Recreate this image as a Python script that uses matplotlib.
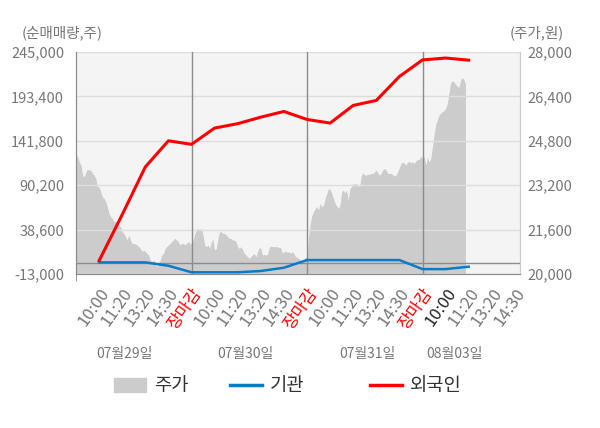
import numpy as np
import matplotlib
matplotlib.use('Agg')
import matplotlib.pyplot as plt
from matplotlib.patches import Patch
from matplotlib.lines import Line2D

plt.rcParams['font.family'] = ['Noto Sans CJK KR', 'DejaVu Sans']

# 주가 (sampled evenly through each session)
price_d1 = [24345, 24224, 24043, 23924, 23564, 23504, 23684, 23780, 23744, 23744,
            23624, 23564, 23444, 23144, 23144, 22964, 22784, 22724, 22604, 22424,
            22184, 22064, 22004, 21884, 21884, 21824, 21764, 21704, 21524, 21464,
            21344, 21224, 21404, 21224, 21104, 21104, 21074, 21044, 20984, 20924,
            20804, 20864, 20804, 20744, 20684, 20504, 20444, 20504, 20384, 20264,
            20384, 20504, 20684, 20744, 20924, 20984, 21044, 21104, 21164, 21224,
            21284, 21224, 21164, 21044, 21104, 21104, 21044, 21104, 21164, 21104]
price_d2 = [21104, 21224, 21464, 21584, 21644, 21584, 21644, 21404, 21044, 20984,
            21044, 20924, 21164, 21260, 20864, 20924, 21284, 21524, 21524, 21464,
            21464, 21404, 21344, 21284, 21284, 21224, 21224, 21164, 20984, 20924,
            20984, 20864, 20744, 20684, 20624, 20564, 20624, 20684, 20744, 20624,
            20804, 20948, 20924, 20684, 20708, 20684, 20708, 20924, 21020, 20984,
            20984, 20984, 20984, 20960, 20960, 20744, 20804, 20828, 20780, 20804,
            20744, 20804, 20744, 20624, 20588, 20564, 20504, 20468, 20504, 20624]
price_d3 = [20564, 21344, 21824, 22124, 22244, 22364, 22424, 22304, 22544, 22424,
            22484, 22724, 22904, 23084, 23048, 22904, 22724, 22544, 22448, 22364,
            22484, 22964, 23024, 22928, 23024, 22664, 23084, 23144, 23264, 23240,
            23264, 23144, 23204, 23564, 23648, 23564, 23564, 23600, 23588, 23624,
            23624, 23684, 23744, 23624, 23564, 23624, 23768, 23804, 23744, 23624,
            23624, 23624, 23576, 23528, 23564, 23684, 23840, 23984, 24044, 23984,
            23924, 24044, 24044, 24008, 24044, 23984, 24080, 24128, 24128, 24248]
price_d4 = [24164, 24240, 23924, 24200, 24040, 24150, 24584, 25030, 25390, 25560,
            25724, 25800, 25844, 25890, 25964, 26140, 26500, 26890, 26960, 26924,
            26840, 26770, 26720, 26960, 27080, 27010, 26864]
samples_per_day = 70

# 순매매량 누적 (one point per tick label, up to 08/03 11:20)
inst = [500, 500, 500, -3400, -11000, -11000, -11000, -9500, -5700,
        3200, 3200, 3200, 3200, 3200, -7300, -7300, -4500]
foreign = [2400, 56000, 111400, 141800, 137700, 156600, 161700, 169300, 175900,
           166600, 162400, 182900, 188700, 216500, 235800, 238000, 235500]

tick_labels = ['10:00', '11:20', '13:20', '14:30', '장마감'] * 3 + ['10:00', '11:20', '13:20', '14:30']
dates = ['07월29일', '07월30일', '07월31일', '08월03일']
date_pos = [2.1, 7.35, 12.6, 16.4]

left_ticks = [-13000, 38600, 90200, 141800, 193400, 245000]
right_ticks = [20000, 21600, 23200, 24800, 26400, 28000]

fig = plt.figure(figsize=(6, 4.28), dpi=100)
ax = fig.add_axes([76 / 600, 1 - 274 / 428, 444 / 600, 222 / 428])
ax2 = ax.twinx()
ax.set_zorder(ax2.get_zorder() + 1)
ax.patch.set_visible(False)
ax2.patch.set_visible(True)
ax2.set_facecolor('#f4f4f4')

price = np.array(price_d1 + price_d2 + price_d3 + price_d4)
px = np.arange(len(price)) * 5.0 / samples_per_day
ax2.fill_between(px, 20000, price, color='#cccccc', lw=0)
ax2.set_ylim(20000, 28000)
ax2.set_yticks(right_ticks)
ax2.set_yticklabels([f'{v:,}' for v in right_ticks])

xs = np.arange(1, len(foreign) + 1)
ax.grid(axis='y', color='#dddddd', lw=1)
ax.set_axisbelow(True)
ax.axhline(0, color='#8c8c8c', lw=1, zorder=1.5)
for d in (5, 10, 15):
    ax.axvline(d, color='#8c8c8c', lw=1, zorder=1.5)
ax.plot(xs, inst, color='#0a7bc8', lw=1.8, zorder=3)
ax.plot(xs, foreign, color='#ff0000', lw=2.2, zorder=4)
ax.set_ylim(-13000, 245000)
ax.set_yticks(left_ticks)
ax.set_yticklabels([f'{v:,}' for v in left_ticks])

ax.set_xlim(0, 19.22)
ax.set_xticks(range(1, 20))
ax.set_xticklabels(tick_labels, rotation=55, ha='right', va='top', rotation_mode='anchor')
ax.set_xticks([0, 5, 10, 15], minor=True)
ax.tick_params(axis='x', which='major', length=0, pad=8, labelsize=12)
ax.tick_params(axis='x', which='minor', length=5, color='#8c8c8c')
for lab in ax.get_xticklabels():
    if lab.get_text() == '장마감':
        lab.set_color('red')
    else:
        lab.set_color('#777777')
ax.get_xticklabels()[15].set_color('#222222')

ax.tick_params(axis='y', length=0, labelsize=10.5, labelcolor='#777777', pad=8.5)
ax2.tick_params(axis='y', length=0, labelsize=10.5, labelcolor='#777777', pad=5)
for a in (ax, ax2):
    a.spines['top'].set_visible(False)
    a.spines['left'].set_color('#8c8c8c')
    a.spines['bottom'].set_color('#8c8c8c')
    a.spines['right'].set_color('#cccccc')

for d, p in zip(dates, date_pos):
    ax.text(p, -0.36, d, transform=ax.get_xaxis_transform(), ha='center', va='center',
            fontsize=10, color='#777777')

fig.text(22 / 600, 1 - 33 / 428, '(순매매량,주)', fontsize=10.5, color='#777777', va='center')
fig.text(510 / 600, 1 - 33 / 428, '(주가,원)', fontsize=10.5, color='#777777', va='center')

handles = [Patch(color='#cccccc'), Line2D([], [], color='#0a7bc8', lw=2.5),
           Line2D([], [], color='#ff0000', lw=2.5)]
names = ['주가', '기관', '외국인']
starts = [114, 230, 370]
for h, n, x0 in zip(handles, names, starts):
    fig.legend([h], [n], loc='center left', bbox_to_anchor=(x0 / 600, 1 - 386 / 428),
               frameon=False, fontsize=13.5, handlelength=1.7, handleheight=0.75,
               handletextpad=0.45, borderpad=0, borderaxespad=0, labelcolor='#333333')

fig.savefig('out.png', dpi=100)
